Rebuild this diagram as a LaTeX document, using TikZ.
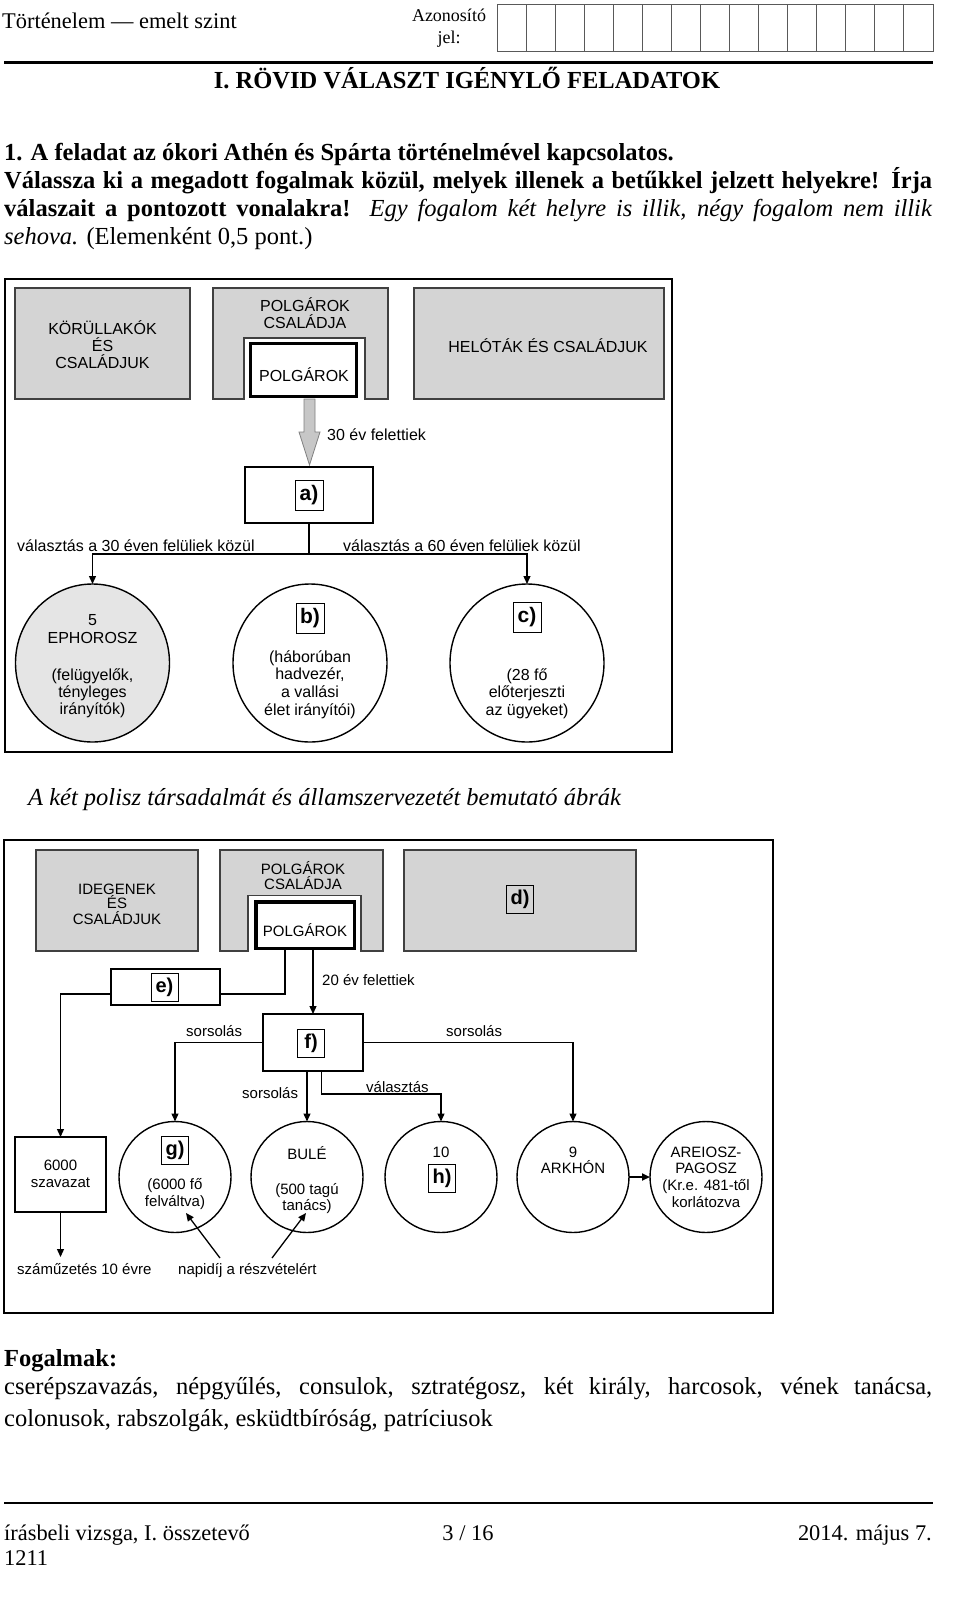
\documentclass[tikz,border=0pt]{standalone}
\usepackage{fontspec}
\setmainfont{Liberation Serif}
\setsansfont{Liberation Sans}
\usetikzlibrary{shapes.geometric,arrows.meta}
\definecolor{boxgray}{gray}{0.83}
\definecolor{lgray}{gray}{0.9}
\definecolor{edgegray}{gray}{0.25}
\definecolor{arrgray}{gray}{0.78}
\definecolor{gridc}{gray}{0.35}
\begin{document}
\begin{tikzpicture}[x=1pt,y=-1pt,
  serif/.style={inner sep=0pt, anchor=base west, font=\fontsize{24.5}{28}\selectfont},
  hdr/.style={inner sep=0pt, font=\fontsize{22.4}{26}\selectfont},
  dt/.style={inner sep=0pt, anchor=base, font=\sffamily\fontsize{16}{18}\selectfont},
  bt/.style={inner sep=0pt, anchor=base, font=\sffamily\fontsize{15}{17}\selectfont},
  graybox/.style={draw=edgegray, line width=1.3pt, fill=boxgray, inner sep=0pt, outer sep=0pt},
  thickbox/.style={draw=black, line width=3.5pt, fill=white, inner sep=0pt, outer sep=0pt},
  plainbox/.style={draw=black, line width=1.3pt, fill=white, inner sep=0pt, outer sep=0pt},
  lab/.style={draw=black, line width=1pt, inner sep=0pt, outer sep=0pt, font=\sffamily\bfseries\fontsize{21}{21}\selectfont, minimum width=28pt, minimum height=30pt},
  blab/.style={lab, font=\sffamily\bfseries\fontsize{20}{20}\selectfont, minimum width=27pt, minimum height=28pt},
  oval/.style={ellipse, draw=black, line width=1.4pt, fill=white, inner sep=0pt, outer sep=0pt},
  conn/.style={draw=black, line width=1.3pt},
  arr/.style={conn, -{Triangle[length=8pt,width=7pt]}},
  frame/.style={draw=black, line width=2.5pt}
]
\useasboundingbox (0,0) rectangle (960,1609);
\fill[white] (0,0) rectangle (960,1609);

% ---------- header ----------
\node[hdr, anchor=base west] (hdrtxt) at (2,28) {Történelem — emelt szint};
\node[inner sep=0pt, anchor=base, font=\fontsize{18}{20}\selectfont] (azon) at (449,21) {Azonosító};
\node[inner sep=0pt, anchor=base, font=\fontsize{18}{20}\selectfont] (jel) at (449,43) {jel:};
\draw[gridc, line width=0.9pt] (497,4) rectangle (933,51);
\foreach \i in {1,...,14} \draw[gridc, line width=0.9pt] ({497+\i*436/15},4) -- ++(0,47);
\draw[line width=3pt] (4,62) -- (933,62);
\node[serif, anchor=base] (title) at (467,88) {\bfseries I. RÖVID VÁLASZT IGÉNYLŐ FELADATOK};

\node[serif] (l1) at (4,160) {\bfseries 1. A feladat az ókori Athén és Spárta történelmével kapcsolatos.};
\node[serif] (l2) at (4,188) {\makebox[928pt][s]{\bfseries Válassza ki a megadott fogalmak közül, melyek illenek a betűkkel jelzett helyekre! Írja}};
\node[serif] (l3) at (4,216) {\makebox[928pt][s]{\textbf{válaszait a pontozott vonalakra!} \textit{Egy fogalom két helyre is illik, négy fogalom nem illik}}};
\node[serif] (l4) at (4,244) {\textit{sehova.} (Elemenként 0,5 pont.)};

% ---------- top diagram (Sparta) ----------
\draw[frame] (5,279) rectangle (672,752);
\node[graybox, minimum width=175pt, minimum height=111pt] (kor) at (102.5,343.5) {};
\filldraw[graybox] (213,288) -- (388,288) -- (388,399) -- (365,399) -- (365,338) -- (244,338) -- (244,399) -- (213,399) -- cycle;
\node[thickbox, minimum width=106pt, minimum height=53pt] (pt) at (303.5,370) {};
\node[graybox, minimum width=250pt, minimum height=111pt] (hel) at (539,343.5) {};

\node[dt] (k1) at (102.5,334) {KÖRÜLLAKÓK};
\node[dt] (k2) at (102.5,351) {ÉS};
\node[dt] (k3) at (102.5,368) {CSALÁDJUK};
\node[dt] (p1) at (305,311) {POLGÁROK};
\node[dt] (p2) at (305,328) {CSALÁDJA};
\node[dt] (p3) at (304,381) {POLGÁROK};
\node[dt] (h1) at (548,352) {HELÓTÁK ÉS CSALÁDJUK};

\filldraw[fill=arrgray, draw=gray, line width=0.8pt] (304,399) -- (315,399) -- (315,432) -- (320,432) -- (309.5,465) -- (299,432) -- (304,432) -- cycle;
\node[dt, anchor=base west] (f30) at (327,440) {30 év felettiek};

\node[plainbox, minimum width=128pt, minimum height=56pt] (abox) at (309,495) {};
\node[lab] (la) at (309,495) {a)};
\coordinate (hl) at (0,554);
\node[oval, fill=lgray, minimum width=154pt, minimum height=158pt] (c1) at (92.5,663) {};
\node[oval, minimum width=154pt, minimum height=158pt] (c2) at (310,663) {};
\node[oval, minimum width=154pt, minimum height=158pt] (c3) at (527,663) {};
\draw[arr] (abox.south) -- (abox.south |- hl) -| (c1.north);
\draw[arr] (abox.south) -- (abox.south |- hl) -| (c3.north);
\node[dt, anchor=base west] (v30) at (17,551) {választás a 30 éven felüliek közül};
\node[dt, anchor=base west] (v60) at (343,551) {választás a 60 éven felüliek közül};

\node[dt] (e1) at (92.5,625) {5};
\node[dt] (e2) at (92.5,643) {EPHOROSZ};
\node[dt] (e3) at (92.5,680) {(felügyelők,};
\node[dt] (e4) at (92.5,697) {tényleges};
\node[dt] (e5) at (92.5,714) {irányítók)};

\node[lab] (lb) at (310,618) {b)};
\node[dt] (b2) at (310,662) {(háborúban};
\node[dt] (b3) at (310,679) {hadvezér,};
\node[dt] (b4) at (310,697) {a vallási};
\node[dt] (b5) at (310,715) {élet irányítói)};

\node[lab] (lc) at (527,617) {c)};
\node[dt] (cc2) at (527,680) {(28 fő};
\node[dt] (cc3) at (527,697) {előterjeszti};
\node[dt] (cc4) at (527,715) {az ügyeket)};

% ---------- caption ----------
\node[serif] (cap) at (28,805) {\itshape A két polisz társadalmát és államszervezetét bemutató ábrák};

% ---------- bottom diagram (Athens) ----------
\draw[frame] (4,840) rectangle (773,1313);
\node[graybox, minimum width=162pt, minimum height=101pt] (ide) at (117,900.5) {};
\filldraw[graybox] (220,850) -- (383,850) -- (383,951) -- (361,951) -- (361,895.5) -- (248,895.5) -- (248,951) -- (220,951) -- cycle;
\node[thickbox, minimum width=98.5pt, minimum height=46.5pt] (pb) at (305,925) {};
\node[graybox, minimum width=232pt, minimum height=101pt] (dbox) at (520,900.5) {};
\node[blab] (ld) at (520,899) {d)};

\node[bt] (i1) at (117,894) {IDEGENEK};
\node[bt] (i2) at (117,908) {ÉS};
\node[bt] (i3) at (117,924) {CSALÁDJUK};
\node[bt] (q1) at (303,874) {POLGÁROK};
\node[bt] (q2) at (303,889) {CSALÁDJA};
\node[bt] (q3) at (305,936) {POLGÁROK};

\node[plainbox, minimum width=109pt, minimum height=36pt] (e) at (165.5,987) {};
\node[blab] (le) at (164.5,987) {e)};
\node[plainbox, minimum width=100pt, minimum height=57pt] (f) at (313,1042.5) {};
\node[blab] (lf) at (311,1043) {f)};
\node[plainbox, minimum width=91pt, minimum height=75pt] (sz) at (60.5,1174.5) {};

\node[oval, minimum width=112pt, minimum height=111pt] (g) at (175,1177) {};
\node[oval, minimum width=112pt, minimum height=111pt] (bule) at (307,1177) {};
\node[oval, minimum width=112pt, minimum height=111pt] (hh) at (441,1177) {};
\node[oval, minimum width=112pt, minimum height=111pt] (ark) at (573,1177) {};
\node[oval, minimum width=112pt, minimum height=111pt] (are) at (706,1177) {};

\coordinate (ej) at (0,994);
\coordinate (pl) at ([xshift=-20pt]pb.south);
\draw[conn] (pl) -- (pl |- ej) -- (e.east |- ej);
\draw[arr] (e.west |- ej) -| (sz.north);
\draw[arr] (f.north |- pb.south) -- (f.north);
\draw[arr] (f.west) -| (g.north);
\draw[arr] (f.east) -| (ark.north);
\draw[arr] (bule.north |- f.south) -- (bule.north);
\coordinate (vy) at (0,1094);
\coordinate (fr) at ([xshift=8.5pt]f.south);
\draw[arr] (fr) -- (fr |- vy) -| (hh.north);
\coordinate (exil) at (60.5,1257);
\draw[arr] (sz.south) -- (exil);
\coordinate (n1) at (220,1258);
\coordinate (n2) at (272,1258);
\coordinate (g1) at (186,1213);
\coordinate (bb1) at (306,1213);
\draw[arr] (n1) -- (g1);
\draw[arr] (n2) -- (bb1);
\draw[arr, line width=1.8pt] (ark.east) -- (are.west);

\node[bt, anchor=base west] (f20) at (322,985) {20 év felettiek};
\node[bt, anchor=base west] (s1) at (186,1036) {sorsolás};
\node[bt, anchor=base west] (s2) at (446,1036) {sorsolás};
\node[bt, anchor=base west] (s3) at (242,1098) {sorsolás};
\node[bt, anchor=base west] (val) at (366,1092) {választás};
\node[bt] (sz1) at (60.5,1170) {6000};
\node[bt] (sz2) at (60.5,1187) {szavazat};
\node[bt, anchor=base west] (ex) at (17,1274) {száműzetés 10 évre};
\node[bt, anchor=base west] (nap) at (178,1274) {napidíj a részvételért};

\node[blab] (lg) at (175,1150) {g)};
\node[bt] (g2) at (175,1189) {(6000 fő};
\node[bt] (g3) at (175,1206) {felváltva)};
\node[bt] (bl1) at (307,1159) {BULÉ};
\node[bt] (bl2) at (307,1194) {(500 tagú};
\node[bt] (bl3) at (307,1210) {tanács)};
\node[bt] (h10) at (441,1157) {10};
\node[blab] (lh) at (442,1178) {h)};
\node[bt] (a9) at (573,1157) {9};
\node[bt] (a2) at (573,1173) {ARKHÓN};
\node[bt] (r1) at (706,1157) {AREIOSZ-};
\node[bt] (r2) at (706,1173) {PAGOSZ};
\node[bt] (r3) at (706,1190) {(Kr.e. 481-től};
\node[bt] (r4) at (706,1207) {korlátozva};

% ---------- concepts ----------
\node[serif] (fog) at (4,1366) {\bfseries Fogalmak:};
\node[serif] (fl1) at (4,1394) {\makebox[928pt][s]{cserépszavazás, népgyűlés, consulok, sztratégosz, két király, harcosok, vének tanácsa,}};
\node[serif] (fl2) at (4,1426) {colonusok, rabszolgák, esküdtbíróság, patríciusok};

% ---------- footer ----------
\draw[line width=2.5pt] (4,1503) -- (933,1503);
\node[hdr, anchor=base west] (ft1) at (4,1540) {írásbeli vizsga, I. összetevő};
\node[hdr, anchor=base] (ft2) at (468,1540) {3 / 16};
\node[hdr, anchor=base east] (ft3) at (932,1540) {2014. május 7.};
\node[hdr, anchor=base west] (ft4) at (4,1565) {1211};
\end{tikzpicture}
\end{document}
